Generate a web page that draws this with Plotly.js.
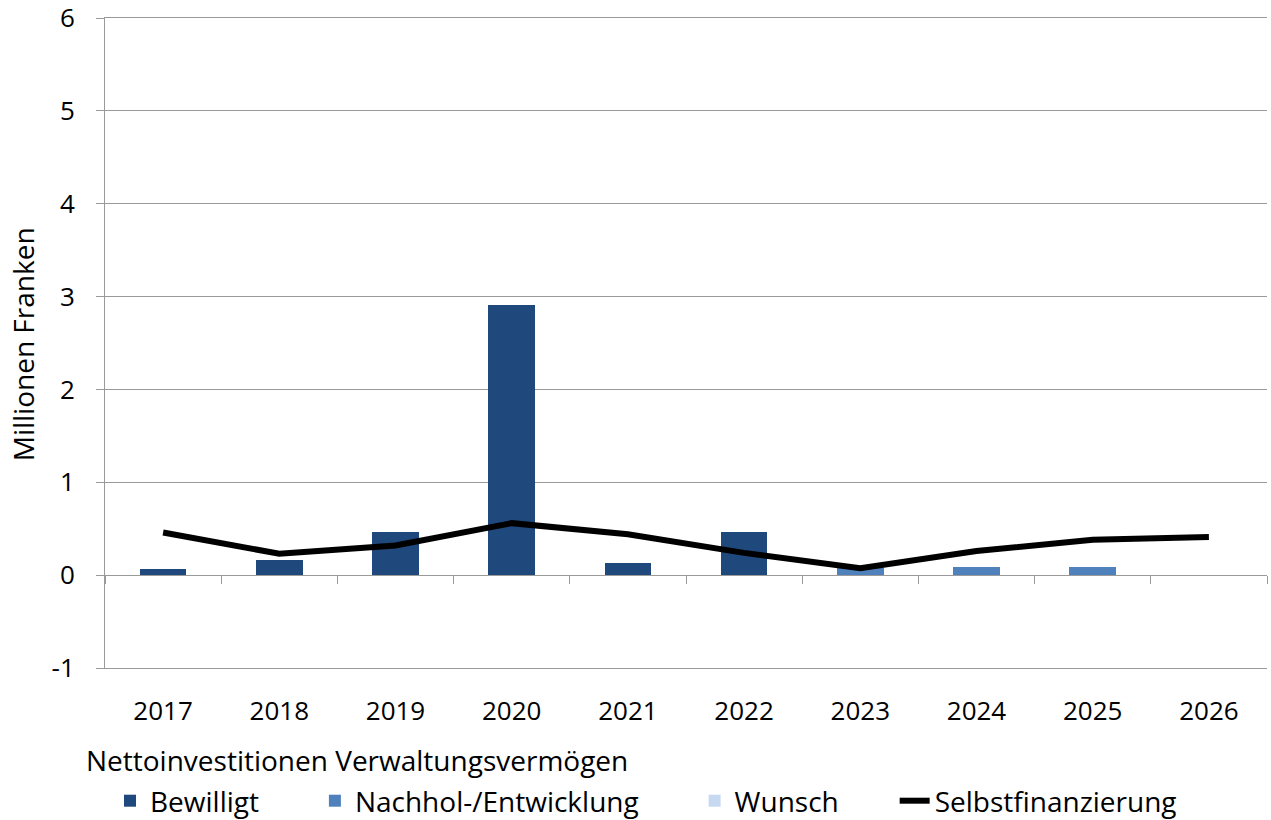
<!DOCTYPE html>
<html>
<head>
<meta charset="utf-8">
<script src="https://cdn.plot.ly/plotly-3.0.1.min.js"></script>
<style>html,body{margin:0;padding:0;background:#fff;}#chart{width:1271px;height:820px;}</style>
</head>
<body>
<div id="chart"></div>
<script>
var years = ['2017','2018','2019','2020','2021','2022','2023','2024','2025','2026'];
var bewilligt = [0.07, 0.16, 0.46, 2.91, 0.13, 0.47, 0, 0, 0, 0];
var nachholEntwicklung = [0, 0, 0, 0, 0, 0, 0.08, 0.09, 0.09, 0];
var wunsch = [0, 0, 0, 0, 0, 0, 0, 0, 0, 0];
var selbstfinanzierung = [0.46, 0.23, 0.32, 0.56, 0.44, 0.24, 0.075, 0.26, 0.38, 0.41];
var yTickVals = [-1, 0, 1, 2, 3, 4, 5, 6];
var yTickText = ['-1', '0', '1', '2', '3', '4', '5', '6'];

var FONT = 'Open Sans, Noto Sans, sans-serif';
var GRID = '#9a9a9a';
var PAD = '\u00a0\u00a0\u00a0\u00a0\u00a0\u00a0\u00a0';

var traces = [
  {type:'bar', name:'Bewilligt' + PAD, x:years, y:bewilligt, marker:{color:'#1f497d'}, xaxis:'x', yaxis:'y'},
  {type:'bar', name:'Nachhol-/Entwicklung' + PAD, x:years, y:nachholEntwicklung, marker:{color:'#4f81bd'}, xaxis:'x', yaxis:'y'},
  {type:'bar', name:'Wunsch' + PAD, x:years, y:wunsch, marker:{color:'#c6d9f1'}, xaxis:'x', yaxis:'y'},
  {type:'scatter', mode:'lines', name:'Selbstfinanzierung', x:years, y:selbstfinanzierung, line:{color:'#000000', width:6}, xaxis:'x2', yaxis:'y'}
];

var layout = {
  width:1271, height:820,
  margin:{l:105, r:4, t:18, b:152},
  paper_bgcolor:'#ffffff', plot_bgcolor:'#ffffff',
  font:{family:FONT, size:26, color:'#000'},
  barmode:'stack',
  bargap:0.6,
  showlegend:true,
  xaxis:{
    type:'category', categoryorder:'array', categoryarray:years,
    range:[-0.5, 9.5],
    showline:true, mirror:true, linecolor:GRID, linewidth:1,
    ticks:'', showgrid:false, zeroline:false,
    ticklabelstandoff:20,
    tickfont:{family:FONT, size:26, color:'#000'}
  },
  xaxis2:{
    type:'category', categoryorder:'array', categoryarray:years,
    range:[-0.5, 9.5],
    overlaying:'x', anchor:'free', position:1/7,
    showline:true, linecolor:GRID, linewidth:1,
    ticks:'outside', tickson:'boundaries', ticklen:8, tickcolor:GRID,
    showticklabels:false, showgrid:false, zeroline:false
  },
  yaxis:{
    range:[-1, 6], tickmode:'array', tickvals:yTickVals, ticktext:yTickText,
    showgrid:true, gridcolor:GRID, gridwidth:1,
    zeroline:false,
    showline:true, linecolor:GRID, linewidth:1,
    ticks:'outside', ticklen:8, tickcolor:GRID,
    ticklabelstandoff:16, ticklabeloverflow:'allow',
    tickfont:{family:FONT, size:26, color:'#000'}
  },
  annotations:[
    {
      text:'Millionen Franken', textangle:-90, showarrow:false,
      xref:'paper', yref:'paper', x:(23-105)/1162, y:0.498, xanchor:'center', yanchor:'middle',
      font:{family:FONT, size:28, color:'#000'}
    },
    {
      text:'Nettoinvestitionen Verwaltungsvermögen', showarrow:false,
      xref:'paper', yref:'paper', x:(84-105)/1162, y:(668-760)/650, xanchor:'left', yanchor:'middle',
      font:{family:FONT, size:28, color:'#000'}
    }
  ],
  legend:{
    orientation:'h', xref:'container', yref:'container',
    x:110/1271, y:1-801/820, xanchor:'left', yanchor:'middle',
    font:{family:FONT, size:28, color:'#000'},
    traceorder:'normal', bgcolor:'rgba(0,0,0,0)'
  }
};

Plotly.newPlot('chart', traces, layout, {displayModeBar:false, staticPlot:true});
</script>
</body>
</html>
